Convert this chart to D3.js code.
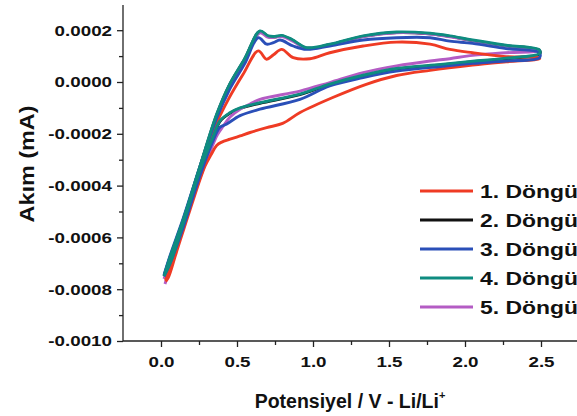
<!DOCTYPE html>
<html>
<head>
<meta charset="utf-8">
<script src="https://cdn.jsdelivr.net/npm/d3@7"></script>
<style>
  body { margin: 0; background: #fff; }
  svg text { font-family: "Liberation Sans", Arial, sans-serif; font-weight: bold; fill: #111; }
</style>
</head>
<body>
<div id="chart"></div>
<script>
// CV cycles, [potential V, current mA], in sweep order (anodic up, then cathodic back)
const cycle1 = [
  [0.03, -0.000765], [0.08, -0.00068], [0.16, -0.000525], [0.26, -0.00034], [0.35, -0.00018],
  [0.443, -0.000067], [0.54, 0.00003], [0.64, 0.00012], [0.695, 0.000088], [0.74, 0.000105],
  [0.794, 0.000126], [0.87, 0.000094], [0.98, 0.00009], [1.11, 0.000113], [1.33, 0.000139],
  [1.55, 0.000154], [1.77, 0.000146], [1.90, 0.000126], [2.05, 0.000113], [2.27, 0.000098],
  [2.49, 0.000093],
  [2.49, 0.00009], [2.27, 0.000078], [2.05, 0.000065], [1.77, 0.000045], [1.55, 0.000025],
  [1.35, -0.000009], [1.13, -0.00006], [0.915, -0.000118], [0.80, -0.00016], [0.695, -0.000176],
  [0.586, -0.000195], [0.52, -0.000208], [0.454, -0.000221], [0.40, -0.000232], [0.366, -0.000245],
  [0.33, -0.00028], [0.29, -0.000324], [0.19, -0.000495], [0.10, -0.00066], [0.048, -0.000755],
  [0.03, -0.00077]
];
const cycle2 = [
  [0.02, -0.000748], [0.06, -0.000677], [0.147, -0.000532], [0.257, -0.000326], [0.366, -0.000127],
  [0.45, -0.000012], [0.55, 0.000088], [0.651, 0.000195], [0.706, 0.000176], [0.75, 0.000174],
  [0.794, 0.000178], [0.86, 0.000163], [0.958, 0.000131], [1.11, 0.000144], [1.33, 0.000176],
  [1.55, 0.000191], [1.77, 0.000186], [1.90, 0.000176], [2.05, 0.00016], [2.27, 0.00014],
  [2.49, 0.000122],
  [2.49, 0.000108], [2.27, 0.00009], [2.05, 0.000078], [1.84, 0.000066], [1.55, 0.00005],
  [1.33, 0.000024], [1.11, -0.00001], [0.914, -0.000049], [0.651, -0.000082], [0.52, -0.000102],
  [0.45, -0.000122], [0.388, -0.000152], [0.34, -0.000217], [0.257, -0.000342], [0.147, -0.000547],
  [0.06, -0.000702], [0.02, -0.00075]
];
const cycle3 = [
  [0.02, -0.000745], [0.06, -0.00067], [0.147, -0.000525], [0.257, -0.000325], [0.366, -0.00014],
  [0.45, -0.00003], [0.55, 0.00007], [0.64, 0.000171], [0.695, 0.000146], [0.74, 0.000152],
  [0.783, 0.000162], [0.87, 0.000139], [0.958, 0.000126], [1.11, 0.000139], [1.33, 0.000162],
  [1.55, 0.000171], [1.77, 0.000171], [1.90, 0.000158], [2.05, 0.000149], [2.27, 0.000129],
  [2.49, 0.000113],
  [2.49, 0.000094], [2.27, 0.000081], [2.05, 0.000072], [1.84, 0.00006], [1.55, 0.000042],
  [1.33, 0.000017], [1.11, -0.000015], [0.914, -0.000067], [0.651, -0.000105], [0.52, -0.00013],
  [0.43, -0.000163], [0.388, -0.000175], [0.34, -0.00023], [0.257, -0.00036], [0.147, -0.00056],
  [0.06, -0.0007], [0.02, -0.00075]
];
const cycle4 = [
  [0.02, -0.00075], [0.06, -0.000675], [0.147, -0.00053], [0.257, -0.000324], [0.366, -0.000125],
  [0.45, -0.00001], [0.55, 0.00009], [0.651, 0.000197], [0.706, 0.000178], [0.75, 0.000176],
  [0.794, 0.00018], [0.86, 0.000165], [0.958, 0.000133], [1.11, 0.000146], [1.33, 0.000178],
  [1.55, 0.000193], [1.77, 0.000188], [1.90, 0.000178], [2.05, 0.000162], [2.27, 0.000142],
  [2.49, 0.000124],
  [2.49, 0.00011], [2.27, 0.000092], [2.05, 0.00008], [1.84, 0.000068], [1.55, 0.000052],
  [1.33, 0.000026], [1.11, -0.000008], [0.914, -0.000047], [0.651, -0.00008], [0.52, -0.0001],
  [0.45, -0.00012], [0.388, -0.00015], [0.34, -0.000215], [0.257, -0.00034], [0.147, -0.000545],
  [0.06, -0.0007], [0.02, -0.000748]
];
const cycle5 = [
  [0.02, -0.00076], [0.06, -0.00068], [0.147, -0.000535], [0.257, -0.000328], [0.366, -0.00013],
  [0.45, -0.000015], [0.55, 0.000085], [0.651, 0.00019], [0.706, 0.000172], [0.794, 0.000175],
  [0.86, 0.00016], [0.958, 0.00013], [1.11, 0.000143], [1.33, 0.000175], [1.55, 0.00019],
  [1.77, 0.000185], [2.05, 0.00016], [2.27, 0.00014], [2.49, 0.000122],
  [2.49, 0.00012], [2.27, 0.000113], [2.05, 0.000103], [1.90, 0.00009], [1.77, 0.000081],
  [1.55, 0.000062], [1.33, 0.000036], [1.11, -0.000002], [0.914, -0.000035], [0.651, -0.000067],
  [0.586, -0.000085], [0.52, -0.000105], [0.454, -0.000135], [0.41, -0.00017], [0.37, -0.000205],
  [0.278, -0.000337], [0.169, -0.000517], [0.08, -0.00068], [0.026, -0.00078]
];

const labels = ["1. Döngü", "2. Döngü", "3. Döngü", "4. Döngü", "5. Döngü"];
const colors = ["#ef3b24", "#111111", "#2a4fb8", "#0e8c80", "#b45cc4"];
const cycles = [cycle1, cycle2, cycle3, cycle4, cycle5];
const drawOrder = [1, 4, 0, 2, 3]; // 2nd and 5th sit under the teal trace

const xTicks = [0, 0.5, 1, 1.5, 2, 2.5];
const yTicks = [-0.001, -0.0008, -0.0006, -0.0004, -0.0002, 0, 0.0002];

const W = 577, H = 416;
const svg = d3.select("#chart").append("svg").attr("width", W).attr("height", H);

const x = d3.scaleLinear().domain([-0.25, 2.75]).range([123, 579]);
const y = d3.scaleLinear().domain([-0.001, 0.0003]).range([341, 4.3]);

// stretch text a bit, the original font is wider than Arial
function widen(sel, k) {
  sel.each(function() {
    const w = this.getComputedTextLength();
    this.setAttribute("textLength", w * k);
    this.setAttribute("lengthAdjust", "spacingAndGlyphs");
  });
}

const line = d3.line().x(d => x(d[0])).y(d => y(d[1])).curve(d3.curveCatmullRom.alpha(0.5));

const plot = svg.append("g");
drawOrder.forEach(i => {
  plot.append("path")
    .datum(cycles[i])
    .attr("d", line)
    .attr("fill", "none")
    .attr("stroke", colors[i])
    .attr("stroke-width", 2.9)
    .attr("stroke-linejoin", "round");
});

// axes
const axisColor = "#222";
const fmtY = d => d3.format(".4f")(d).replace("−", "-");
const xAxis = svg.append("g").attr("transform", `translate(0,${y(-0.001)})`)
  .call(d3.axisBottom(x).tickValues(xTicks).tickFormat(d3.format(".1f")).tickSize(6).tickPadding(9));
svg.append("g").attr("transform", `translate(0,${y(-0.001)})`)
  .call(d3.axisBottom(x).tickValues([0.25, 0.75, 1.25, 1.75, 2.25]).tickFormat("").tickSize(4))
  .select(".domain").remove();

const yAxis = svg.append("g").attr("transform", `translate(${x(-0.25)},0)`)
  .call(d3.axisLeft(y).tickValues(yTicks).tickFormat(fmtY).tickSize(6).tickPadding(5));
svg.append("g").attr("transform", `translate(${x(-0.25)},0)`)
  .call(d3.axisLeft(y).tickValues([-0.0009, -0.0007, -0.0005, -0.0003, -0.0001, 0.0001]).tickFormat("").tickSize(4))
  .select(".domain").remove();

svg.selectAll(".domain, .tick line").attr("stroke", axisColor).attr("stroke-width", 1.3);
xAxis.select(".domain").attr("d", `M${x(-0.25)},0H${W + 5}`);
yAxis.select(".domain").attr("d", `M0,${y(-0.001)}V5`);

svg.selectAll(".tick text")
  .attr("font-family", null).attr("font-weight", null)
  .style("font-size", "15.4px").attr("fill", "#111");
widen(svg.selectAll(".tick text"), 1.22);

// axis titles
const xt = svg.append("text")
  .attr("x", 350).attr("y", 408)
  .attr("text-anchor", "middle")
  .style("font-size", "19.5px");
xt.append("tspan").text("Potensiyel / V - Li/Li");
xt.append("tspan").text("+").style("font-size", "11px").attr("dy", -9);

svg.append("text")
  .attr("transform", "translate(34,164) rotate(-90)")
  .attr("text-anchor", "middle")
  .style("font-size", "19.5px")
  .text("Akım (mA)")
  .call(widen, 1.2);

// legend
const leg = svg.append("g");
labels.forEach((lab, i) => {
  const ly = 191 + i * 29;
  leg.append("line")
    .attr("x1", 420).attr("x2", 473).attr("y1", ly).attr("y2", ly)
    .attr("stroke", colors[i]).attr("stroke-width", 2.9);
  leg.append("text")
    .attr("x", 480).attr("y", ly + 6.8)
    .style("font-size", "18.8px")
    .text(lab)
    .call(widen, 1.22);
});
</script>
</body>
</html>
